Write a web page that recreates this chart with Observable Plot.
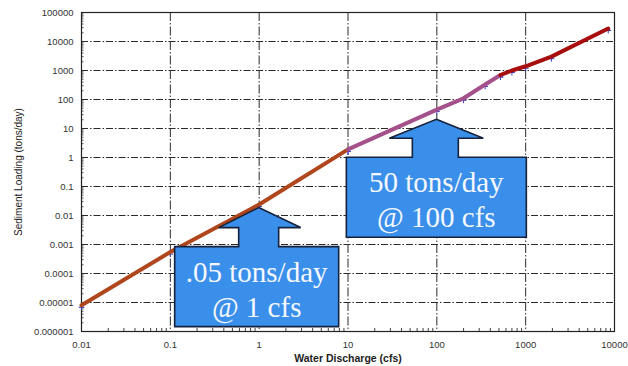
<!DOCTYPE html>
<html>
<head>
<meta charset="utf-8">
<script src="https://cdn.jsdelivr.net/npm/d3@7"></script>
<script src="https://cdn.jsdelivr.net/npm/@observablehq/plot@0.6"></script>
<style>
  html, body { margin: 0; padding: 0; background: #fff; }
  #chart { width: 628px; height: 366px; overflow: hidden; }
</style>
</head>
<body>
<div id="chart"></div>
<script>
// ---- data ----
const xTicks = [0.01, 0.1, 1, 10, 100, 1000, 10000];
const xTickLabels = ["0.01", "0.1", "1", "10", "100", "1000", "10000"];
const yTicks = [1e-6, 1e-5, 1e-4, 1e-3, 1e-2, 1e-1, 1, 10, 100, 1000, 10000, 100000];
const yTickLabels = ["0.000001", "0.00001", "0.0001", "0.001", "0.01", "0.1", "1", "10", "100", "1000", "10000", "100000"];

// rating curve segments (discharge cfs, load tons/day)
const lowQ = [0.01, 0.1, 1, 10];
const lowLoad = [8e-6, 0.00055, 0.024, 1.9];
const midQ = [10, 100, 200, 350, 520];
const midLoad = [1.9, 45, 110, 330, 700];
const highQ = [520, 700, 1000, 1950, 8500];
const highLoad = [700, 1000, 1400, 3000, 28000];

// callouts
const calloutQ = [1, 100];
const calloutLoad = [0.018, 20];
const calloutText = [[".05 tons/day", "@ 1 cfs"], ["50 tons/day", "@ 100 cfs"]];

// ---- helpers ----
const toRows = (xs, ys) => xs.map((q, i) => ({q, load: ys[i]}));
const lowRows = toRows(lowQ, lowLoad);
const midRows = toRows(midQ, midLoad);
const highRows = toRows(highQ, highLoad);
const allRows = [...lowRows, ...midRows, ...highRows];

const decadesX = xTicks.slice(0, -1);
const minorX = decadesX.flatMap(d => [2,3,4,5,6,7,8,9].map(k => d * k));
const minorY = yTicks.slice(0, -1).flatMap(d => [2,3,4,5,6,7,8,9].map(k => d * k));

// callout shape geometry (pixel offsets relative to arrow tip)
const calloutGeom = [
  {head: 20, headL: -40, headR: 42, stemL: -20, stemR: 20, top: 39, boxL: -84, boxR: 80, bottom: 119, tx: -2, line1: 74, line2: 109},
  {head: 19, headL: -47, headR: 47, stemL: -24, stemR: 22, top: 38, boxL: -90, boxR: 90, bottom: 118, tx: 0, line1: 73, line2: 108}
];

function callout(i) {
  return (index, scales) => {
    const g = calloutGeom[i];
    const X = scales.x(calloutQ[i]), Y = scales.y(calloutLoad[i]);
    const pts = [[0,0],[g.headR,g.head],[g.stemR,g.head],[g.stemR,g.top],[g.boxR,g.top],[g.boxR,g.bottom],
                 [g.boxL,g.bottom],[g.boxL,g.top],[g.stemL,g.top],[g.stemL,g.head],[g.headL,g.head]];
    const el = d3.create("svg:g").attr("transform", `translate(${X},${Y})`);
    el.append("path")
      .attr("d", "M" + pts.map(p => p.join(",")).join("L") + "Z")
      .attr("fill", "#3a8fea")
      .attr("stroke", "#16223c")
      .attr("stroke-width", 1.6)
      .attr("stroke-linejoin", "miter");
    const t = el.append("g")
      .attr("font-family", "'Liberation Serif', 'Times New Roman', serif")
      .attr("font-size", 29)
      .attr("fill", "#f6f8ff")
      .attr("text-anchor", "middle");
    t.append("text").attr("x", g.tx).attr("y", g.line1).text(calloutText[i][0]);
    t.append("text").attr("x", g.tx).attr("y", g.line2).text(calloutText[i][1]);
    return el.node();
  };
}

const gridDash = "7,2,1.5,2";

const chart = Plot.plot({
  width: 628,
  height: 366,
  marginLeft: 81,
  marginRight: 14,
  marginTop: 12,
  marginBottom: 35,
  style: {fontFamily: "'Liberation Sans', Arial, sans-serif", fontSize: "9.5px", color: "#333", background: "#fff"},
  x: {type: "log", domain: [0.01, 10000]},
  y: {type: "log", domain: [1e-6, 1e5]},
  marks: [
    Plot.ruleY(yTicks.slice(1, -1), {stroke: "#2a2a2a", strokeWidth: 1, strokeDasharray: gridDash}),
    Plot.ruleX(xTicks.slice(1, -1), {stroke: "#2a2a2a", strokeWidth: 1, strokeDasharray: "9,2,1.5,2"}),
    Plot.axisX({ticks: minorX, tickSize: -3, text: null, label: null, stroke: "#444"}),
    Plot.axisY({ticks: minorY, tickSize: -2.5, text: null, label: null, stroke: "#555"}),
    Plot.axisX({ticks: xTicks, tickSize: 0, tickPadding: 10, tickFormat: (d) => xTickLabels[xTicks.indexOf(d)], label: null, fill: "#333"}),
    Plot.axisY({ticks: yTicks, tickSize: 0, tickPadding: 8, tickFormat: (d) => yTickLabels[yTicks.indexOf(d)], label: null, fill: "#333"}),
    Plot.frame({stroke: "#222", strokeWidth: 1.2}),
    Plot.dot(allRows, {x: "q", y: "load", symbol: "plus", r: 2, stroke: "#3a3acc", strokeWidth: 1, dy: 2}),
    Plot.line(lowRows, {x: "q", y: "load", stroke: "#b0461c", strokeWidth: 4}),
    Plot.line(midRows, {x: "q", y: "load", stroke: "#a4508a", strokeWidth: 4}),
    Plot.line(highRows, {x: "q", y: "load", stroke: "#a80e0e", strokeWidth: 4}),
    callout(0),
    callout(1),
    Plot.text(["Water Discharge (cfs)"], {frameAnchor: "bottom", dy: 30, fontWeight: "bold", fontSize: 10.5, fill: "#222"}),
    Plot.text(["Sediment Loading (tons/day)"], {frameAnchor: "left", dx: -63, rotate: -90, textAnchor: "middle", fontSize: 10, fill: "#222"})
  ]
});
document.getElementById("chart").appendChild(chart);
</script>
</body>
</html>
